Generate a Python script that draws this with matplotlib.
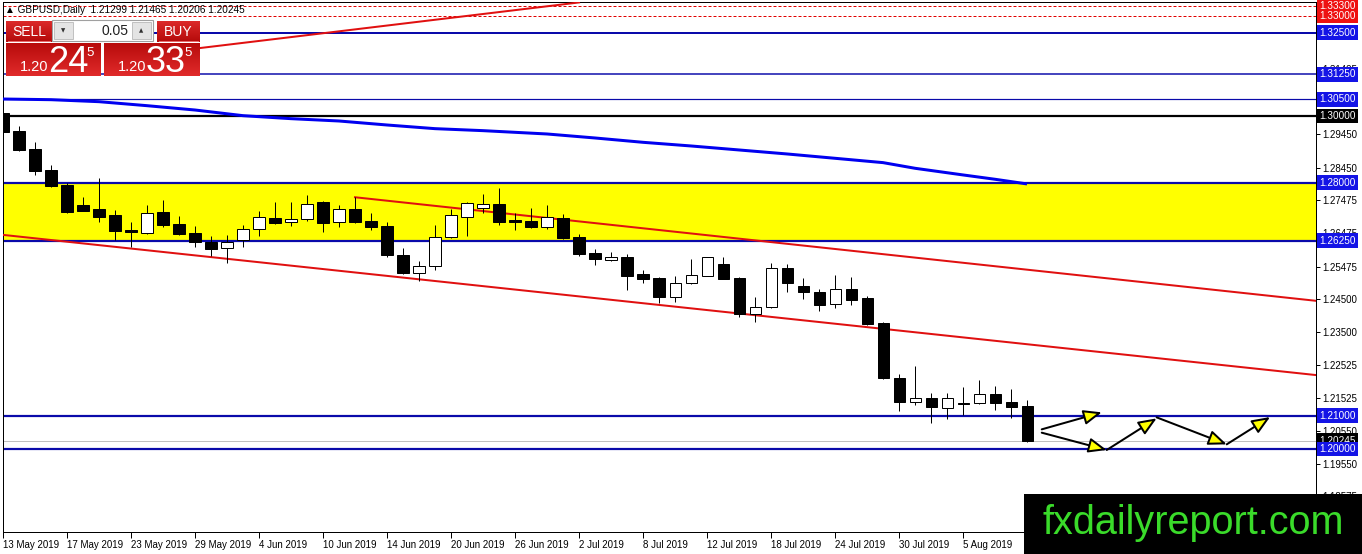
import numpy as np
import matplotlib
matplotlib.use("Agg")
import matplotlib.pyplot as plt
from matplotlib.patches import Rectangle, FancyArrowPatch

# ---------------- data ----------------
dates = ["13 May 2019", "17 May 2019", "23 May 2019", "29 May 2019", "4 Jun 2019",
         "10 Jun 2019", "14 Jun 2019", "20 Jun 2019", "26 Jun 2019", "2 Jul 2019",
         "8 Jul 2019", "12 Jul 2019", "18 Jul 2019", "24 Jul 2019", "30 Jul 2019",
         "5 Aug 2019"]
date_bars = list(range(0, 64, 4))

opens = [1.3010, 1.2955, 1.2901, 1.2838, 1.2793, 1.2733, 1.2721, 1.2703, 1.2658, 1.2650,
         1.2711, 1.2675, 1.2648, 1.2623, 1.2603, 1.2628, 1.2660, 1.2694, 1.2681, 1.2690,
         1.2741, 1.2681, 1.2721, 1.2685, 1.2670, 1.2583, 1.2528, 1.2551, 1.2638, 1.2698,
         1.2725, 1.2735, 1.2688, 1.2685, 1.2668, 1.2693, 1.2636, 1.2588, 1.2568, 1.2576,
         1.2526, 1.2514, 1.2457, 1.2498, 1.2520, 1.2556, 1.2513, 1.2405, 1.2427, 1.2543,
         1.2490, 1.2472, 1.2435, 1.2480, 1.2453, 1.2377, 1.2212, 1.2142, 1.2152, 1.2122,
         1.2139, 1.2137, 1.2165, 1.2142, 1.21299]
highs = [1.3018, 1.2970, 1.2923, 1.2853, 1.2800, 1.2758, 1.2813, 1.2718, 1.2681, 1.2733,
         1.2748, 1.2700, 1.2670, 1.2640, 1.2643, 1.2673, 1.2715, 1.2742, 1.2742, 1.2763,
         1.2745, 1.2733, 1.2756, 1.2708, 1.2683, 1.2603, 1.2566, 1.2673, 1.2720, 1.2743,
         1.2766, 1.2783, 1.2708, 1.2723, 1.2733, 1.2706, 1.2646, 1.2600, 1.2591, 1.2585,
         1.2538, 1.2518, 1.2520, 1.2571, 1.2577, 1.2576, 1.2518, 1.2456, 1.2560, 1.2556,
         1.2513, 1.2480, 1.2523, 1.2518, 1.2460, 1.2382, 1.2225, 1.2249, 1.2167, 1.2167,
         1.2185, 1.2207, 1.2189, 1.2179, 1.21465]
lows = [1.2937, 1.2895, 1.2823, 1.2787, 1.2710, 1.2714, 1.2683, 1.2628, 1.2608, 1.2646,
        1.2666, 1.2643, 1.2608, 1.2581, 1.2558, 1.2608, 1.2641, 1.2676, 1.2670, 1.2686,
        1.2653, 1.2668, 1.2678, 1.2658, 1.2578, 1.2526, 1.2505, 1.2538, 1.2633, 1.2640,
        1.2708, 1.2673, 1.2658, 1.2663, 1.2661, 1.2630, 1.2580, 1.2553, 1.2566, 1.2478,
        1.2498, 1.2438, 1.2440, 1.2496, 1.2519, 1.2510, 1.2396, 1.2381, 1.2423, 1.2472,
        1.2451, 1.2415, 1.2423, 1.2432, 1.2372, 1.2209, 1.2115, 1.2132, 1.2077, 1.2089,
        1.2102, 1.2135, 1.2117, 1.2092, 1.20206]
closes = [1.2953, 1.2898, 1.2836, 1.2791, 1.2712, 1.2716, 1.2698, 1.2656, 1.2653, 1.2708,
          1.2673, 1.2646, 1.2623, 1.2601, 1.2623, 1.2660, 1.2696, 1.2680, 1.2690, 1.2735,
          1.2680, 1.2720, 1.2683, 1.2668, 1.2583, 1.2529, 1.2551, 1.2638, 1.2703, 1.2738,
          1.2735, 1.2683, 1.2683, 1.2666, 1.2698, 1.2635, 1.2586, 1.2570, 1.2576, 1.2520,
          1.2511, 1.2457, 1.2498, 1.2523, 1.2576, 1.2511, 1.2405, 1.2427, 1.2543, 1.2498,
          1.2471, 1.2433, 1.2480, 1.2447, 1.2376, 1.2212, 1.2142, 1.2152, 1.2125, 1.2154,
          1.2134, 1.2165, 1.2137, 1.2127, 1.20245]

ma_bars = [0, 3, 6, 9, 12, 15, 18, 21, 24, 27, 30, 34, 37, 40, 43, 46, 49, 52, 55, 57, 60, 62, 64]
ma_vals = [1.3051, 1.3049, 1.3043, 1.3031, 1.3018, 1.3001, 1.2992, 1.2985, 1.2973, 1.2962,
           1.2956, 1.2946, 1.2934, 1.2921, 1.2910, 1.2898, 1.2886, 1.2873, 1.2860, 1.2843,
           1.2823, 1.2810, 1.2796]

lower_chan_bars = [0, 82.06]
lower_chan_vals = [1.2643, 1.2222]
upper_chan_bars = [22, 82.06]
upper_chan_vals = [1.2756, 1.2445]
top_line_bars = [12.3, 36.0]
top_line_vals = [1.3204, 1.3341]

zone_low, zone_high = 1.2625, 1.2800

# horizontal levels: (price, color, width_px, style)
levels = [(1.3330, "#E00000", 1.0, "dashed"), (1.3300, "#E00000", 1.0, "dashed"),
          (1.3250, "#0A0AAA", 2.0, "solid"), (1.3125, "#0A0AAA", 1.5, "solid"),
          (1.3050, "#0A0AAA", 1.2, "solid"), (1.3000, "#000000", 2.2, "solid"),
          (1.2800, "#0A0AAA", 2.2, "solid"), (1.2625, "#0A0AAA", 2.2, "solid"),
          (1.2100, "#0A0AAA", 2.2, "solid"), (1.2000, "#0A0AAA", 2.2, "solid")]
current_price = 1.20245

ytick_vals = [1.32425, 1.31425, 1.30425, 1.29450, 1.28450, 1.27475, 1.26475, 1.25475,
              1.24500, 1.23500, 1.22525, 1.21525, 1.20550, 1.19550, 1.18575]

price_boxes = [(1.33300, "#EE1111"), (1.33000, "#EE1111"), (1.32500, "#1414E6"),
               (1.31250, "#1414E6"), (1.30500, "#1414E6"), (1.30000, "#000000"),
               (1.28000, "#1414E6"), (1.26250, "#1414E6"), (1.21000, "#1414E6"),
               (1.20245, "#000000"), (1.20000, "#1414E6")]

arrows = [((64.92, 1.2059), (68.67, 1.2110)),
          ((64.92, 1.2049), (68.98, 1.1997)),
          ((68.98, 1.1997), (72.10, 1.2092)),
          ((72.10, 1.2095), (76.48, 1.2014)),
          ((76.48, 1.2014), (79.19, 1.2096))]

header = "\u25B2 GBPUSD,Daily  1.21299 1.21465 1.20206 1.20245"

# ---------------- figure ----------------
W, H = 1362, 554
PX = 72.0 / 100.0  # points per pixel
plt.rcParams['font.family'] = ['Liberation Sans', 'DejaVu Sans']

fig = plt.figure(figsize=(W / 100, H / 100), dpi=100)
fig.patch.set_facecolor("white")
ax = fig.add_axes([3 / W, 22 / H, 1313 / W, 530 / H])
ax.set_facecolor("white")
ax.set_xlim(0, 82.06)
ax.set_ylim(1.175075, 1.334234)

# support/resistance zone
ax.axhspan(zone_low, zone_high, color="#FFFF00", zorder=1, lw=0)

for p, c, w, ls in levels:
    if ls == "dashed":
        ax.axhline(p, color=c, lw=w * PX, ls=(0, (3, 2)), zorder=2)
    else:
        ax.axhline(p, color=c, lw=w * PX, zorder=2)
ax.axhline(current_price, color="#C0C0C0", lw=1 * PX, zorder=2)

# moving average
ax.plot(ma_bars, ma_vals, color="#0000F0", lw=3 * PX, zorder=3, solid_capstyle="butt")

# trend lines
for xs, ys in [(lower_chan_bars, lower_chan_vals), (upper_chan_bars, upper_chan_vals),
               (top_line_bars, top_line_vals)]:
    ax.plot(xs, ys, color="#E01010", lw=2 * PX, zorder=3)

# candles
idx = np.arange(len(opens))
o = np.array(opens); h = np.array(highs); l = np.array(lows); c = np.array(closes)
ax.vlines(idx, l, h, color="black", lw=1 * PX, zorder=4)
bottom = np.minimum(o, c)
height = np.maximum(np.abs(c - o), 0.00012)
cols = np.where(c >= o, "white", "black")
ax.bar(idx, height, bottom=bottom, width=0.69, color=cols, edgecolor="black",
       linewidth=1 * PX, zorder=5)

# arrows
for (x0, y0), (x1, y1) in arrows:
    ar = FancyArrowPatch((x0, y0), (x1, y1),
                         arrowstyle="-|>,head_length=1.1,head_width=0.45",
                         mutation_scale=10, lw=2 * PX, facecolor="#FFFF00",
                         edgecolor="black", zorder=6, shrinkA=0, shrinkB=0)
    ax.add_patch(ar)

# axes styling
for s in ax.spines.values():
    s.set_color("black")
    s.set_linewidth(1 * PX)
ax.yaxis.tick_right()
ax.set_yticks(ytick_vals)
ax.set_yticklabels([f"{v:.5f}" for v in ytick_vals])
ax.tick_params(axis="y", direction="out", length=3, width=1 * PX, pad=1.5, labelsize=7,
               colors="black")
ax.set_xticks(date_bars)
ax.set_xticklabels(dates)
ax.tick_params(axis="x", direction="out", length=4, width=1 * PX, pad=2, labelsize=7,
               colors="black")
for lbl in ax.get_xticklabels():
    lbl.set_ha("left")

# price boxes on the right axis
ytr = ax.get_yaxis_transform()
for p, col in price_boxes:
    ax.text(1.0027, p, f"{p:.5f}", transform=ytr, ha="left", va="center", fontsize=7.2,
            color="white", clip_on=False, zorder=20,
            bbox=dict(boxstyle="square,pad=0.24", facecolor=col, edgecolor="none"))

# ---------------- overlay (pixel coordinates) ----------------
ov = fig.add_axes([0, 0, 1, 1], zorder=10)
ov.patch.set_alpha(0)
ov.axis("off")

def grad(x0, y0, x1, y1, ctop, cbot):
    ct = np.array(matplotlib.colors.to_rgb(ctop)); cb = np.array(matplotlib.colors.to_rgb(cbot))
    t = np.linspace(0, 1, 32)[:, None]
    img = (ct * (1 - t) + cb * t)[:, None, :]
    ov.imshow(img, extent=(x0, x1, y1, y0), aspect="auto", zorder=1, interpolation="bilinear")

# header
ov.text(5, 10, header, fontsize=7.2, color="black", va="center", ha="left", zorder=3)

# buttons
grad(6, 21, 52, 42, "#DC2A2A", "#B40A0A")
grad(157, 21, 200, 42, "#DC2A2A", "#B40A0A")
grad(6, 43, 101, 76, "#B80C0C", "#E02A2A")
grad(104, 43, 200, 76, "#B80C0C", "#E02A2A")
ov.plot([8, 50], [41, 41], color="#F08080", lw=0.6)
ov.plot([159, 198], [41, 41], color="#F08080", lw=0.6)
ov.add_patch(Rectangle((52, 20), 101, 21, facecolor="white", edgecolor="#A0A0A0",
                       lw=0.8, zorder=2))
ov.add_patch(Rectangle((54, 22), 19, 17, facecolor="#E4E4E4", edgecolor="#B8B8B8",
                       lw=0.6, zorder=3))
ov.add_patch(Rectangle((132, 22), 19, 17, facecolor="#E4E4E4", edgecolor="#B8B8B8",
                       lw=0.6, zorder=3))
ov.text(63.5, 31, "\u25BC", fontsize=4, color="#303030", ha="center", va="center",
        family=["DejaVu Sans"], zorder=4)
ov.text(141.5, 31, "\u25B2", fontsize=4, color="#303030", ha="center", va="center",
        family=["DejaVu Sans"], zorder=4)
ov.text(128, 31, "0.05", fontsize=10, color="#202020", ha="right", va="center", zorder=4)
ov.text(29, 31.5, "SELL", fontsize=10, color="white", ha="center", va="center", zorder=4)
ov.text(178.5, 31.5, "BUY", fontsize=10, color="white", ha="center", va="center", zorder=4)

for x_small, x_big, x_sup, big, in [(20, 48, 86, "24"), (118, 146, 184, "33")]:
    ov.text(x_small, 71, "1.20", fontsize=10.5, color="white", ha="left", va="baseline",
            zorder=4)
    ov.text(x_big, 72, big, fontsize=26, color="white", ha="left", va="baseline", zorder=4)
    ov.text(x_sup, 56, "5", fontsize=9.5, color="white", ha="left", va="baseline", zorder=4)

# watermark
ov.add_patch(Rectangle((1024, 494), 338, 60, facecolor="black", edgecolor="none", zorder=5))
ov.text(1193, 523, "fxdailyreport.com", fontsize=28.5, color="#3ADB2A", ha="center",
        va="center", zorder=6)

ov.set_xlim(0, W)
ov.set_ylim(H, 0)

fig.savefig("out.png", dpi=100)
